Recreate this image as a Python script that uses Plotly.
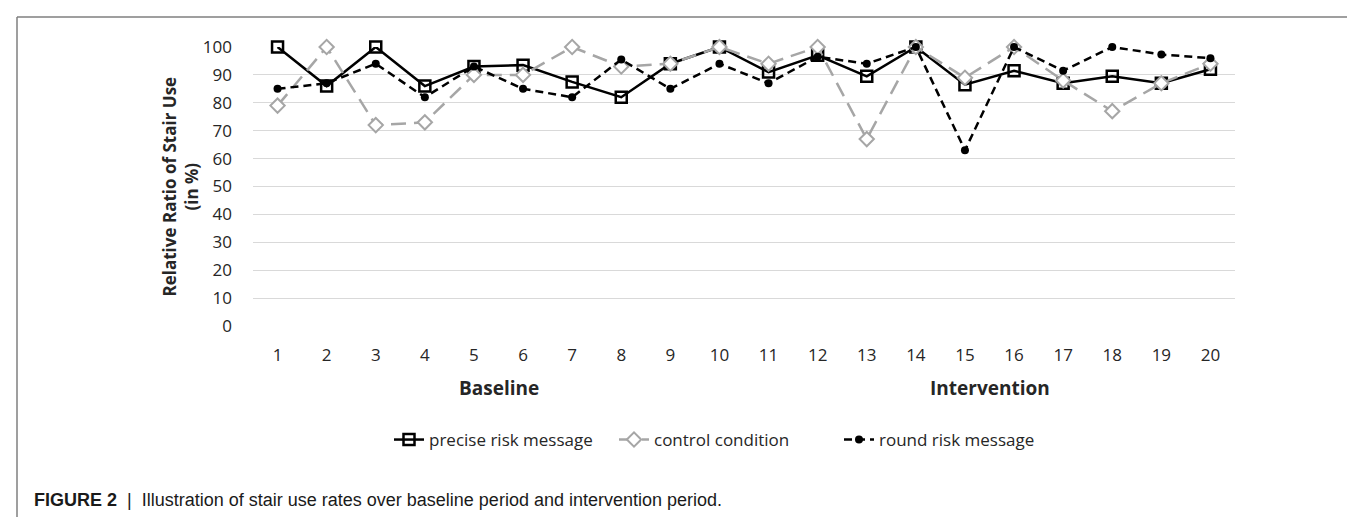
import plotly.graph_objects as go

periods = list(range(1, 21))
precise = [100, 86, 100, 86, 93, 93.5, 87.5, 82, 94, 100, 91, 97, 89.5, 100, 86.5, 91.5, 87, 89.5, 87, 92]
control = [79, 100, 72, 73, 90, 90, 100, 93, 94, 100, 94, 100, 67, 100, 89, 100, 88, 77, 87, 94]
rounded = [85, 87, 94, 82, 93, 85, 82, 95.5, 85, 94, 87, 96.5, 94, 100, 63, 100, 91.5, 100, 97.3, 96]
ytick_vals = list(range(0, 101, 10))

W, H = 1355, 517
L, R, T, B = 245, 1227, 39, 318

def px(x):
    return (x - L) / (R - L)

def py(y):
    return (B - y) / (B - T)

FONT = "Open Sans, Lato, sans-serif"
TXT = "#262626"

fig = go.Figure()
fig.add_trace(go.Scatter(
    x=periods, y=precise, name="precise risk message", mode="lines+markers",
    line=dict(color="black", width=2.5),
    marker=dict(symbol="square-open", size=11, color="black", line=dict(width=2.5)),
    cliponaxis=False))
fig.add_trace(go.Scatter(
    x=periods, y=control, name="control condition", mode="lines+markers",
    line=dict(color="#a6a6a6", width=2.5, dash="15px,8px"),
    marker=dict(symbol="diamond", size=11, color="white", line=dict(color="#a6a6a6", width=2)),
    cliponaxis=False))
fig.add_trace(go.Scatter(
    x=periods, y=rounded, name="round risk message", mode="lines+markers",
    line=dict(color="black", width=2.5, dash="8px,5px"),
    marker=dict(symbol="circle", size=8, color="black"),
    cliponaxis=False))

fig.update_layout(
    width=W, height=H,
    margin=dict(l=L, r=W - R, t=T, b=H - B),
    plot_bgcolor="white", paper_bgcolor="white",
    font=dict(family=FONT, size=17, color=TXT),
    xaxis=dict(range=[0.5, 20.5], tickvals=periods, showgrid=False, zeroline=False,
               showline=False, ticks="", ticklabelstandoff=17,
               tickfont=dict(size=17, color=TXT)),
    yaxis=dict(range=[0, 100], tickvals=ytick_vals, showgrid=True, gridcolor="#d9d9d9",
               gridwidth=1.2, zeroline=False, showline=False, ticks="", ticklabelstandoff=20,
               tickfont=dict(size=17, color=TXT)),
    legend=dict(orientation="h", xref="container", yref="container",
                x=381 / W, y=1 - 432 / H, xanchor="left", yanchor="middle",
                font=dict(size=17, color=TXT), entrywidth=180, entrywidthmode="pixels",
                bgcolor="rgba(0,0,0,0)"),
    showlegend=True,
)

anns = [
    dict(text="<b>Baseline</b>", x=5.5, xref="x", y=py(380), yref="paper",
         showarrow=False, font=dict(size=19, color=TXT), yanchor="middle"),
    dict(text="<b>Intervention</b>", x=15.5, xref="x", y=py(380), yref="paper",
         showarrow=False, font=dict(size=19, color=TXT), yanchor="middle"),
    dict(text="<b>Relative Ratio of Stair Use<br>(in %)</b>", x=px(172), xref="paper",
         y=0.5, yref="paper", textangle=-90, showarrow=False,
         font=dict(size=17, color=TXT), xanchor="center", yanchor="middle"),
    dict(text="<b>FIGURE 2</b>  |  Illustration of stair use rates over baseline period and intervention period.",
         x=px(24), xref="paper", y=py(492), yref="paper", xanchor="left", yanchor="middle",
         showarrow=False,
         font=dict(size=18, color="#1a1a1a",
                   family="Liberation Sans Narrow, Arial Narrow, Liberation Sans, Arial, sans-serif")),
]
fig.update_layout(annotations=anns)

shapes = [
    dict(type="line", xref="paper", yref="paper", x0=px(9), x1=px(9), y0=py(9), y1=py(H + 5),
         line=dict(color="#7f7f7f", width=1.5)),
    dict(type="line", xref="paper", yref="paper", x0=px(9), x1=px(W + 5), y0=py(9), y1=py(9),
         line=dict(color="#7f7f7f", width=1.5)),
    dict(type="line", xref="paper", yref="paper", x0=px(W - 1), x1=px(W - 1), y0=py(9), y1=py(H + 5),
         line=dict(color="#e0e0e0", width=1.5)),
]
fig.update_layout(shapes=shapes)

fig.write_html("out.html")
